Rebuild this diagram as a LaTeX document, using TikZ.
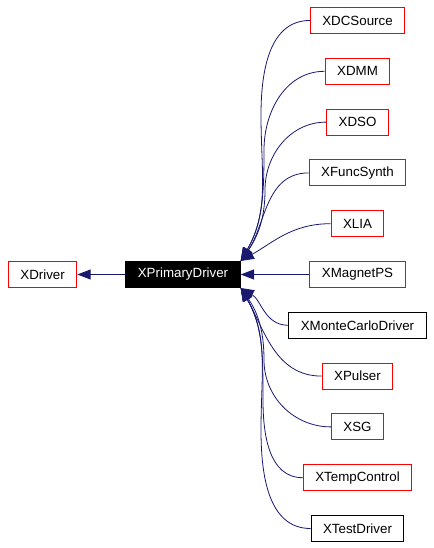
\documentclass[tikz,border=0pt]{standalone}
\usepackage{fontspec}
\setmainfont{Liberation Sans}
\usepackage{tikz}
\usetikzlibrary{arrows.meta,positioning}
\usepackage{xcolor}
\definecolor{dgedge}{HTML}{191970}
\definecolor{dgred}{HTML}{FF0000}
\tikzset{
  classbox/.style={
    rectangle,
    draw=black,
    fill=white,
    line width=0.75pt,
    inner xsep=9pt,
    inner ysep=0pt,
    minimum height=19.5pt,
    font=\fontsize{10}{12}\selectfont
  },
  classlink/.style={classbox, draw=dgred},
  classcur/.style={classbox, fill=black, text=white},
  inheritarrow/.style={-{Triangle[length=10pt,width=7.5pt]}, line width=0.6pt, draw=dgedge}
}
\begin{document}
\begin{tikzpicture}[x=0.75pt, y=-0.75pt, node distance=17.85pt]
\useasboundingbox (0,0) rectangle (434,548);
\node[classcur] (p) at (183,274.5) {XPrimaryDriver};
\node[classlink, left=36pt of p] (x) {XDriver};
\node[classlink] (f) at (357.5,274.5) {XMagnetPS};
\node[classlink, above=of f] (e) {XLIA};
\node[classlink, above=of e] (d) {XFuncSynth};
\node[classlink, above=of d] (c) {XDSO};
\node[classlink, above=of c] (b) {XDMM};
\node[classlink, above=of b] (a) {XDCSource};
\node[classbox, below=of f] (g) {XMonteCarloDriver};
\node[classlink, below=of g] (h) {XPulser};
\node[classlink, below=of h] (i) {XSG};
\node[classlink, below=of i] (j) {XTempControl};
\node[classbox, below=of j] (k) {XTestDriver};
\draw[inheritarrow] (p.west) -- (x.east);
\draw[inheritarrow] (a.west) to[out=180,in=90] (261,115) to[out=-90,in=60] (p.north east);
\draw[inheritarrow] (b.west) to[out=180,in=90] (264,150) to[out=-90,in=60] (p.north east);
\draw[inheritarrow] (c.west) to[out=180,in=90] (265,190) to[out=-90,in=55] (p.north east);
\draw[inheritarrow] (d.west) to[out=180,in=55] (p.north east);
\draw[inheritarrow] (e.west) to[out=180,in=30] (p.north east);
\draw[inheritarrow] (f.west) -- (p.east);
\draw[inheritarrow] (g.west) to[out=180,in=-30] (p.south east);
\draw[inheritarrow] (h.west) to[out=180,in=-60] (p.south east);
\draw[inheritarrow] (i.west) to[out=180,in=-90] (264,360) to[out=90,in=-55] (p.south east);
\draw[inheritarrow] (j.west) to[out=180,in=-90] (263,400) to[out=90,in=-60] (p.south east);
\draw[inheritarrow] (k.west) to[out=180,in=-90] (261,430) to[out=90,in=-60] (p.south east);
\end{tikzpicture}
\end{document}
